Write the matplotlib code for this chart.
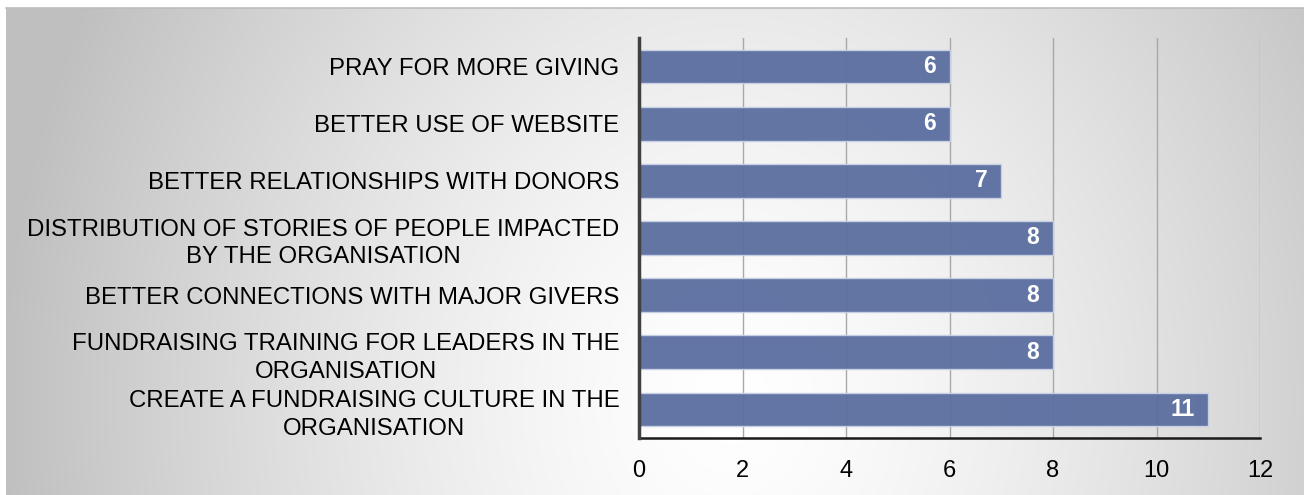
import numpy as np
import matplotlib
matplotlib.use("Agg")
import matplotlib.pyplot as plt
from matplotlib.lines import Line2D

categories = [
    "PRAY FOR MORE GIVING",
    "BETTER USE OF WEBSITE",
    "BETTER RELATIONSHIPS WITH DONORS",
    "DISTRIBUTION OF STORIES OF PEOPLE IMPACTED\nBY THE ORGANISATION",
    "BETTER CONNECTIONS WITH MAJOR GIVERS",
    "FUNDRAISING TRAINING FOR LEADERS IN THE\nORGANISATION",
    "CREATE A FUNDRAISING CULTURE IN THE\nORGANISATION",
]
values = [6, 6, 7, 8, 8, 8, 11]
xticks = [0, 2, 4, 6, 8, 10, 12]

W, H = 1304, 495
plt.rcParams['font.family'] = ['Liberation Sans', 'DejaVu Sans']

fig = plt.figure(figsize=(W / 100, H / 100), dpi=100)
fig.patch.set_facecolor('white')

# radial gradient background
bx0, by_top = 6, 8
bg = fig.add_axes([bx0 / W, 0, 1 - bx0 / W, 1 - by_top / H], zorder=-5)
gw, gh = W - bx0, H - by_top
yy, xx = np.mgrid[0:gh, 0:gw]
cx, cy = 730 - bx0, 400 - by_top
d = np.sqrt(((xx - cx) / 730.0) ** 2 + ((yy - cy) / 850.0) ** 2)
v = 1 - 0.25 * np.clip(d, 0, 1) ** 1.4
img = np.dstack([v, v, v])
bg.imshow(img, aspect='auto', extent=[0, 1, 0, 1], interpolation='bilinear')
bg.set_axis_off()

fig.add_artist(Line2D([bx0 / W, 1], [1 - by_top / H, 1 - by_top / H],
                      transform=fig.transFigure, color='#bdbdbd', lw=1.2))

x0, x1 = 639, 1260
ytop, ybot = 38, 438
ax = fig.add_axes([x0 / W, 1 - ybot / H, (x1 - x0) / W, (ybot - ytop) / H])
ax.set_facecolor('none')

ypos = np.arange(len(categories))
ax.barh(ypos, values, height=0.59, color='#5a6e9f', edgecolor='#c9d1e6',
        linewidth=1.0, alpha=0.95, zorder=3)
ax.set_ylim(len(categories) - 0.5, -0.5)
ax.set_xlim(0, 12)
ax.set_xticks(xticks)
ax.set_xticklabels([str(t) for t in xticks], fontsize=17)
ax.set_yticks(ypos)
ax.set_yticklabels(categories, fontsize=17.3, linespacing=1.35)
for t in ax.get_yticklabels():
    t.set_multialignment('center')
ax.tick_params(axis='y', length=0, pad=14)
ax.tick_params(axis='x', length=0, pad=16)

ax.grid(axis='x', color='#a8a8a8', lw=1.0, zorder=1)
ax.set_axisbelow(True)
for s in ['top', 'right']:
    ax.spines[s].set_visible(False)
ax.spines['left'].set_color('#404040')
ax.spines['left'].set_linewidth(2.5)
ax.spines['left'].set_zorder(4)
ax.spines['bottom'].set_color('#1a1a1a')
ax.spines['bottom'].set_linewidth(1.8)

for yi, v_ in zip(ypos, values):
    ax.annotate(str(v_), xy=(v_, yi), xytext=(-10, 0), textcoords='offset points',
                ha='right', va='center', color='white', fontsize=16.5,
                fontweight='bold', zorder=5)

fig.savefig('out.png', dpi=100)
